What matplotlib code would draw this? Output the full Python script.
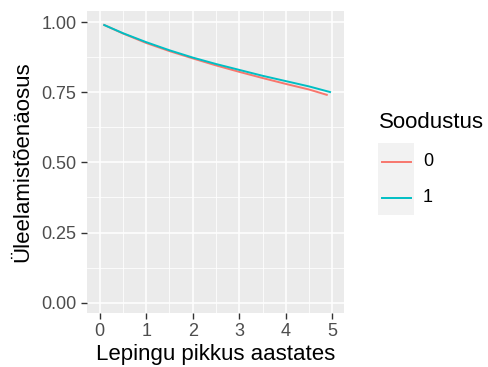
import matplotlib
matplotlib.use("Agg")
import matplotlib.pyplot as plt
from matplotlib.lines import Line2D
from matplotlib.patches import Rectangle
from matplotlib.ticker import MultipleLocator

plt.rcParams['font.family'] = ['Liberation Sans', 'DejaVu Sans']

# survival curves
x0 = [0.1, 0.5, 1.0, 1.5, 2.0, 2.5, 3.0, 3.5, 4.0, 4.5, 4.88]
y0 = [0.990, 0.960, 0.926, 0.897, 0.871, 0.846, 0.823, 0.801, 0.780, 0.760, 0.741]
x1 = [0.1, 0.5, 1.0, 1.5, 2.0, 2.5, 3.0, 3.5, 4.0, 4.5, 4.95]
y1 = [0.990, 0.961, 0.929, 0.900, 0.874, 0.851, 0.830, 0.809, 0.790, 0.771, 0.751]
groups = ["0", "1"]
colors = ["#F8766D", "#00BFC4"]

W, H = 488, 367
fig = plt.figure(figsize=(W / 100, H / 100), dpi=100)
ax = fig.add_axes([87 / W, 1 - 313 / H, (344 - 87) / W, (313 - 11) / H])
ax.set_facecolor("#EBEBEB")

ax.plot(x0, y0, color=colors[0], lw=1.4, zorder=3)
ax.plot(x1, y1, color=colors[1], lw=1.4, zorder=3)

ax.set_xlim(-0.27, 5.25)
ax.set_ylim(-0.037, 1.040)
ax.xaxis.set_major_locator(MultipleLocator(1))
ax.xaxis.set_minor_locator(MultipleLocator(0.5))
ax.yaxis.set_major_locator(MultipleLocator(0.25))
ax.yaxis.set_minor_locator(MultipleLocator(0.125))
ax.yaxis.set_major_formatter(plt.FuncFormatter(lambda v, p: "%.2f" % v))
ax.grid(which="major", color="white", lw=1.1)
ax.grid(which="minor", color="white", lw=0.55)
ax.set_axisbelow(True)
for s in ax.spines.values():
    s.set_visible(False)
ax.tick_params(which="major", length=4, width=1.0, color="#333333",
               labelcolor="#4D4D4D", labelsize=13, pad=3)
ax.tick_params(axis="y", pad=3.5)
ax.tick_params(which="minor", length=0)

ax.set_xlabel("Lepingu pikkus aastates", fontsize=16, labelpad=3)
ax.set_ylabel("Üleelamistõenäosus", fontsize=16, labelpad=6)

# legend drawn by hand, ggplot style
fig.text(379 / W, 1 - 122 / H, "Soodustus", fontsize=16, va="center", ha="left")
fig.patches.append(Rectangle((378 / W, 1 - 215 / H), 36 / W, 72 / H,
                             transform=fig.transFigure, facecolor="#F2F2F2",
                             edgecolor="none"))
for i, (g, c) in enumerate(zip(groups, colors)):
    yc = 1 - (161.5 + 36 * i) / H
    fig.lines.append(Line2D([382 / W, 411 / W], [yc, yc], transform=fig.transFigure,
                            color=c, lw=1.4))
    fig.text(423 / W, yc, g, fontsize=13, va="center", ha="left")

fig.savefig("out.png", dpi=100)
